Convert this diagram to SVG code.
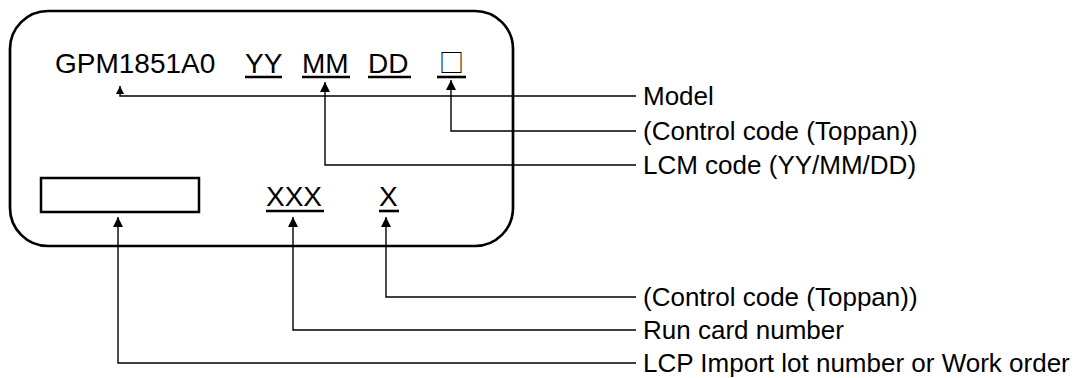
<svg xmlns="http://www.w3.org/2000/svg" width="1085" height="378" viewBox="0 0 1085 378">
<style>
  .t{font-family:"Liberation Sans",Arial,sans-serif;fill:#000}
  .big{font-size:28px}
  .lbl{font-size:26px}
  .ul{stroke:#000;stroke-width:2.6}
  .con{fill:none;stroke:#000;stroke-width:1.4}
</style>
<defs>
  <marker id="ah" markerUnits="userSpaceOnUse" markerWidth="10" markerHeight="10" refX="10" refY="5" orient="auto">
    <path d="M0,0 L10,5 L0,10 Z" fill="#000"/>
  </marker>
  <marker id="ahs" markerUnits="userSpaceOnUse" markerWidth="8" markerHeight="8" refX="8" refY="4" orient="auto">
    <path d="M0,0 L8,4 L0,8 Z" fill="#000"/>
  </marker>
</defs>
<rect width="1085" height="378" fill="#fff"/>
<g id="label-panel">
  <rect x="10" y="11" width="503" height="235" rx="38" ry="38" fill="none" stroke="#000" stroke-width="2.7"/>
</g>
<g id="model">
  <text class="t big" x="55" y="73">GPM1851A0</text>
</g>
<g id="yy">
  <text class="t big" x="245" y="73">YY</text>
  <line class="ul" x1="245" y1="77" x2="282" y2="77"/>
</g>
<g id="mm">
  <text class="t big" x="302" y="73">MM</text>
  <line class="ul" x1="302" y1="77" x2="350" y2="77"/>
</g>
<g id="dd">
  <text class="t big" x="368" y="73">DD</text>
  <line class="ul" x1="368" y1="77" x2="411" y2="77"/>
</g>
<g id="ctrl-top">
  <text x="451.5" y="72" text-anchor="middle" style="font-family:'Noto Sans CJK JP','DejaVu Sans',sans-serif;font-size:25px;fill:#000">□</text>
  <line class="ul" x1="437" y1="77" x2="466" y2="77"/>
</g>
<g id="lot-box">
  <rect x="41" y="178" width="158" height="34" fill="none" stroke="#000" stroke-width="2.5"/>
</g>
<g id="xxx">
  <text class="t big" x="266" y="206">XXX</text>
  <line class="ul" x1="266" y1="211" x2="324" y2="211"/>
</g>
<g id="x">
  <text class="t big" x="379" y="206">X</text>
  <line class="ul" x1="379" y1="211" x2="399" y2="211"/>
</g>
<g id="connectors">
  <path class="con" d="M636 96 H120 V86" marker-end="url(#ahs)"/>
  <path class="con" d="M636 131 H451 V80" marker-end="url(#ah)"/>
  <path class="con" d="M636 165 H325 V82" marker-end="url(#ah)"/>
  <path class="con" d="M636 297 H386 V217" marker-end="url(#ah)"/>
  <path class="con" d="M636 330 H293 V217" marker-end="url(#ah)"/>
  <path class="con" d="M636 363 H118 V217" marker-end="url(#ah)"/>
</g>
<g id="labels">
  <text class="t lbl" x="643" y="105">Model</text>
  <text class="t lbl" x="643" y="140">(Control code (Toppan))</text>
  <text class="t lbl" x="643" y="174">LCM code (YY/MM/DD)</text>
  <text class="t lbl" x="643" y="306">(Control code (Toppan))</text>
  <text class="t lbl" x="643" y="339">Run card number</text>
  <text class="t lbl" x="643" y="372">LCP Import lot number or Work order</text>
</g>
</svg>
